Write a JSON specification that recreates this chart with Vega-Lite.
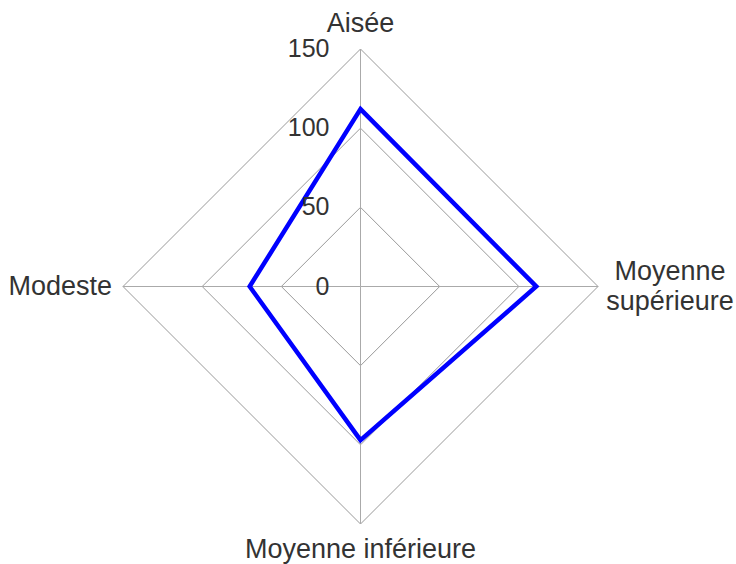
{
  "$schema": "https://vega.github.io/schema/vega-lite/v6.json",
  "width": 475,
  "height": 475,
  "autosize": {"type": "none"},
  "padding": {"left": 123, "top": 49, "right": 138, "bottom": 40},
  "background": "white",
  "config": {"view": {"stroke": null}, "text": {"font": "Liberation Sans", "color": "#333333"}},
  "datasets": {
    "scores": [
      {"axe": "Aisée", "rang": 0, "valeur": 112},
      {"axe": "Moyenne supérieure", "rang": 1, "valeur": 111},
      {"axe": "Moyenne inférieure", "rang": 2, "valeur": 97},
      {"axe": "Modeste", "rang": 3, "valeur": 70}
    ],
    "grille": [
      {"axe": "Aisée", "rang": 0, "niveau": 50},
      {"axe": "Moyenne supérieure", "rang": 1, "niveau": 50},
      {"axe": "Moyenne inférieure", "rang": 2, "niveau": 50},
      {"axe": "Modeste", "rang": 3, "niveau": 50},
      {"axe": "Aisée", "rang": 0, "niveau": 100},
      {"axe": "Moyenne supérieure", "rang": 1, "niveau": 100},
      {"axe": "Moyenne inférieure", "rang": 2, "niveau": 100},
      {"axe": "Modeste", "rang": 3, "niveau": 100},
      {"axe": "Aisée", "rang": 0, "niveau": 150},
      {"axe": "Moyenne supérieure", "rang": 1, "niveau": 150},
      {"axe": "Moyenne inférieure", "rang": 2, "niveau": 150},
      {"axe": "Modeste", "rang": 3, "niveau": 150}
    ],
    "graduations": [
      {"niveau": 0}, {"niveau": 50}, {"niveau": 100}, {"niveau": 150}
    ]
  },
  "layer": [
    {
      "data": {"name": "grille"},
      "transform": [
        {"calculate": "datum.rang * PI / 2", "as": "angle"},
        {"calculate": "datum.niveau * sin(datum.angle)", "as": "px"},
        {"calculate": "datum.niveau * cos(datum.angle)", "as": "py"}
      ],
      "mark": {"type": "line", "interpolate": "linear-closed", "stroke": "#999999", "strokeWidth": 1},
      "encoding": {
        "x": {"field": "px", "type": "quantitative", "scale": {"domain": [-150, 150], "nice": false, "zero": false}, "axis": null},
        "y": {"field": "py", "type": "quantitative", "scale": {"domain": [-150, 150], "nice": false, "zero": false}, "axis": null},
        "detail": {"field": "niveau"},
        "order": {"field": "rang"}
      }
    },
    {
      "data": {"name": "grille"},
      "transform": [
        {"filter": "datum.niveau == 150"},
        {"calculate": "datum.rang * PI / 2", "as": "angle"},
        {"calculate": "datum.niveau * sin(datum.angle)", "as": "px"},
        {"calculate": "datum.niveau * cos(datum.angle)", "as": "py"}
      ],
      "mark": {"type": "rule", "stroke": "#aaaaaa", "strokeWidth": 1},
      "encoding": {
        "x": {"field": "px", "type": "quantitative"},
        "y": {"field": "py", "type": "quantitative"},
        "x2": {"datum": 0},
        "y2": {"datum": 0}
      }
    },
    {
      "data": {"name": "scores"},
      "transform": [
        {"calculate": "datum.rang * PI / 2", "as": "angle"},
        {"calculate": "datum.valeur * sin(datum.angle)", "as": "px"},
        {"calculate": "datum.valeur * cos(datum.angle)", "as": "py"}
      ],
      "mark": {"type": "line", "interpolate": "linear-closed", "stroke": "#0000ff", "strokeWidth": 4.5, "strokeJoin": "miter"},
      "encoding": {
        "x": {"field": "px", "type": "quantitative"},
        "y": {"field": "py", "type": "quantitative"},
        "order": {"field": "rang"}
      }
    },
    {
      "data": {"name": "graduations"},
      "mark": {"type": "text", "align": "right", "baseline": "middle", "dx": -31, "fontSize": 25},
      "encoding": {
        "x": {"datum": 0, "type": "quantitative"},
        "y": {"field": "niveau", "type": "quantitative"},
        "text": {"field": "niveau", "type": "quantitative"}
      }
    },
    {
      "data": {"name": "scores"},
      "transform": [{"filter": "datum.rang == 0"}],
      "mark": {"type": "text", "align": "center", "baseline": "alphabetic", "dy": -17, "fontSize": 27},
      "encoding": {
        "x": {"datum": 0, "type": "quantitative"},
        "y": {"datum": 150, "type": "quantitative"},
        "text": {"field": "axe"}
      }
    },
    {
      "data": {"name": "scores"},
      "transform": [{"filter": "datum.rang == 1"}],
      "mark": {"type": "text", "align": "center", "baseline": "middle", "dx": 72, "dy": -15, "fontSize": 27, "lineBreak": " ", "lineHeight": 30},
      "encoding": {
        "x": {"datum": 150, "type": "quantitative"},
        "y": {"datum": 0, "type": "quantitative"},
        "text": {"field": "axe"}
      }
    },
    {
      "data": {"name": "scores"},
      "transform": [{"filter": "datum.rang == 2"}],
      "mark": {"type": "text", "align": "center", "baseline": "alphabetic", "dy": 34, "fontSize": 27},
      "encoding": {
        "x": {"datum": 0, "type": "quantitative"},
        "y": {"datum": -150, "type": "quantitative"},
        "text": {"field": "axe"}
      }
    },
    {
      "data": {"name": "scores"},
      "transform": [{"filter": "datum.rang == 3"}],
      "mark": {"type": "text", "align": "right", "baseline": "middle", "dx": -11, "fontSize": 27},
      "encoding": {
        "x": {"datum": -150, "type": "quantitative"},
        "y": {"datum": 0, "type": "quantitative"},
        "text": {"field": "axe"}
      }
    }
  ]
}
